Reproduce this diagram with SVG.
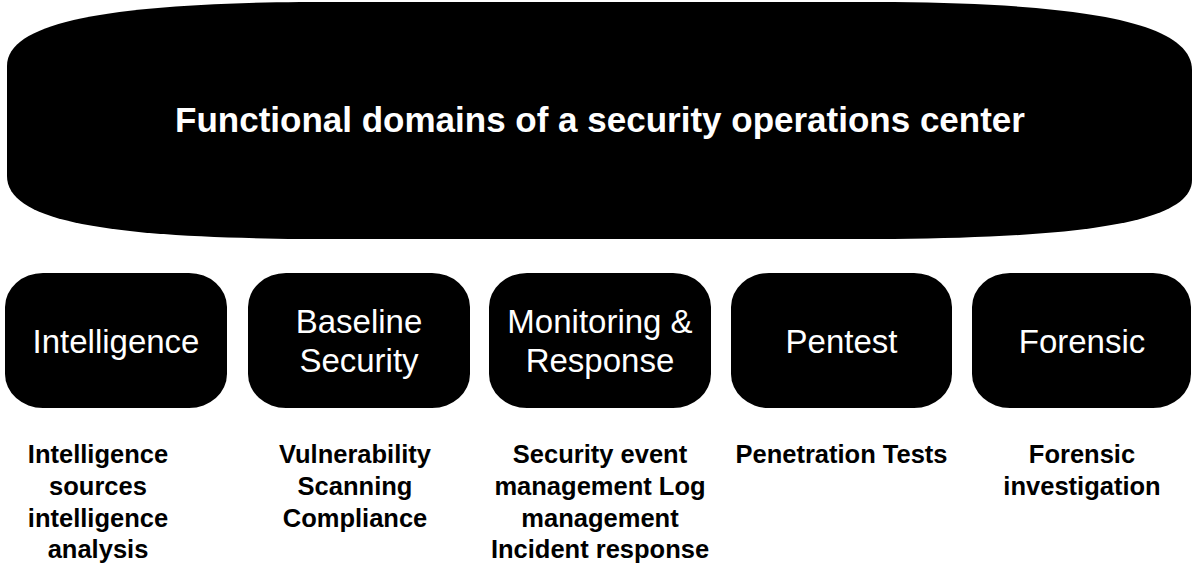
<svg xmlns="http://www.w3.org/2000/svg" width="1194" height="563" viewBox="0 0 1194 563">
<style>
.shape{fill:#000;}
.bt{font-family:"Liberation Sans",Arial,sans-serif;font-size:33px;fill:#fff;text-anchor:middle;}
.title{font-family:"Liberation Sans",Arial,sans-serif;font-size:35px;font-weight:bold;fill:#fff;text-anchor:middle;}
.lbl{font-family:"Liberation Sans",Arial,sans-serif;font-size:25.5px;font-weight:bold;fill:#000;text-anchor:middle;}
</style>
<rect width="1194" height="563" fill="#fff"/>
<g id="title-node">
<path class="shape" d="M 7,120 L 7,66 C 7,20 120,4 300,2 L 894,2 C 1074,4 1192,20 1192,70 L 1192,180 C 1192,224 1074,237 894,239 L 300,239 C 120,237 7,224 7,176 Z"/>
<text class="title" x="600" y="132">Functional domains of a security operations center</text>
</g>
<g id="connectors"></g>
<g id="intelligence">
<rect class="shape" x="5" y="273" width="222" height="135" rx="38" ry="34"/>
<text class="bt" x="116" y="353">Intelligence</text>
</g>
<g id="baseline">
<rect class="shape" x="248" y="273" width="222" height="135" rx="38" ry="34"/>
<text class="bt" x="359" y="333">Baseline</text>
<text class="bt" x="359" y="372">Security</text>
</g>
<g id="monitoring">
<rect class="shape" x="489" y="273" width="222" height="135" rx="38" ry="34"/>
<text class="bt" x="600" y="333">Monitoring &amp;</text>
<text class="bt" x="600" y="372">Response</text>
</g>
<g id="pentest">
<rect class="shape" x="731" y="273" width="221" height="135" rx="38" ry="34"/>
<text class="bt" x="841.5" y="353">Pentest</text>
</g>
<g id="forensic">
<rect class="shape" x="972" y="273" width="219" height="135" rx="38" ry="34"/>
<text class="bt" x="1082" y="353">Forensic</text>
</g>
<g id="labels">
<text class="lbl" x="98" y="463">Intelligence</text>
<text class="lbl" x="98" y="495">sources</text>
<text class="lbl" x="98" y="527">intelligence</text>
<text class="lbl" x="98" y="558">analysis</text>
<text class="lbl" x="355" y="463">Vulnerability</text>
<text class="lbl" x="355" y="495">Scanning</text>
<text class="lbl" x="355" y="527">Compliance</text>
<text class="lbl" x="600" y="463">Security event</text>
<text class="lbl" x="600" y="495">management Log</text>
<text class="lbl" x="600" y="527">management</text>
<text class="lbl" x="600" y="558">Incident response</text>
<text class="lbl" x="841.5" y="463">Penetration Tests</text>
<text class="lbl" x="1082" y="463">Forensic</text>
<text class="lbl" x="1082" y="495">investigation</text>
</g>
</svg>
